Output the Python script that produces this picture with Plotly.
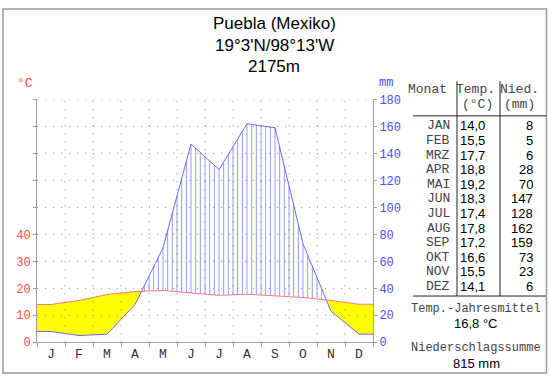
import numpy as np
import plotly.graph_objects as go

# ---------------- data ----------------
title_lines = ["Puebla (Mexiko)", "19°3'N/98°13'W", "2175m"]
month_letters = ["J", "F", "M", "A", "M", "J", "J", "A", "S", "O", "N", "D"]
month_names = ["JAN", "FEB", "MRZ", "APR", "MAI", "JUN", "JUL", "AUG", "SEP", "OKT", "NOV", "DEZ"]
temp_c = [14.0, 15.5, 17.7, 18.8, 19.2, 18.3, 17.4, 17.8, 17.2, 16.6, 15.5, 14.1]
precip_mm = [8, 5, 6, 28, 70, 147, 128, 162, 159, 73, 23, 6]
temp_labels = ["14,0", "15,5", "17,7", "18,8", "19,2", "18,3", "17,4", "17,8", "17,2", "16,6", "15,5", "14,1"]
precip_labels = ["8", "5", "6", "28", "70", "147", "128", "162", "159", "73", "23", "6"]
temp_tick_vals = [0, 10, 20, 30, 40, 50, 60, 70, 80, 90]
temp_tick_text = ["0", "10", "20", "30", "40", "", "", "", "", ""]
precip_tick_vals = [0, 20, 40, 60, 80, 100, 120, 140, 160, 180]
mean_temp_text = "16,8 °C"
total_precip_text = "815 mm"

W, H = 550, 384
def px(xp):
    return xp / W
def py(yp):
    return 1 - yp / H

MONO = "Liberation Mono"
SANS = "Liberation Sans"
RED = "#ff4d4d"
BLUE = "#4d4dff"

# ---------------- geometry from data ----------------
n = len(temp_c)
nx = np.array([0.0] + [i + 0.5 for i in range(n)] + [float(n)])
Tn = 2 * np.array([temp_c[0]] + temp_c + [temp_c[-1]], dtype=float)   # temp in mm units
Pn = np.array([precip_mm[0]] + precip_mm + [precip_mm[-1]], dtype=float)

# refine with crossing points
X, T, P = [nx[0]], [Tn[0]], [Pn[0]]
for i in range(len(nx) - 1):
    d0 = Pn[i] - Tn[i]
    d1 = Pn[i + 1] - Tn[i + 1]
    if d0 * d1 < 0:
        f = d0 / (d0 - d1)
        xc = nx[i] + f * (nx[i + 1] - nx[i])
        yc = Tn[i] + f * (Tn[i + 1] - Tn[i])
        X.append(xc); T.append(yc); P.append(yc)
    X.append(nx[i + 1]); T.append(Tn[i + 1]); P.append(Pn[i + 1])
X, T, P = np.array(X), np.array(T), np.array(P)

fig = go.Figure()

# arid (yellow) areas
arid = T >= P - 1e-9
runs, cur = [], []
for k in range(len(X)):
    if arid[k]:
        cur.append(k)
    else:
        if len(cur) > 1:
            runs.append(cur)
        cur = []
if len(cur) > 1:
    runs.append(cur)
for r in runs:
    xs = list(X[r]) + list(X[r][::-1])
    ys = list(T[r]) + list(P[r][::-1])
    fig.add_trace(go.Scatter(x=xs, y=ys, fill="toself", fillcolor="#ffff00",
                             line=dict(width=0), mode="lines", hoverinfo="skip",
                             showlegend=False, yaxis="y"))

# humid hatch
hx, hy = [], []
for xv in np.arange(1, 6 * n) / 6.0:
    tv = np.interp(xv, nx, Tn)
    pv = np.interp(xv, nx, Pn)
    if pv > tv:
        hx += [xv, xv, None]
        hy += [tv, pv, None]
fig.add_trace(go.Scatter(x=hx, y=hy, mode="lines", line=dict(color="#9a9aff", width=1),
                         hoverinfo="skip", showlegend=False, yaxis="y"))

# precipitation line
fig.add_trace(go.Scatter(x=nx, y=Pn, mode="lines", line=dict(color="#6a6aff", width=1),
                         showlegend=False, yaxis="y"))
# temperature line
fig.add_trace(go.Scatter(x=nx, y=Tn / 2, mode="lines", line=dict(color="#ff7a7a", width=1),
                         showlegend=False, yaxis="y2"))

AX = "#a0a0a0"
fig.update_layout(
    width=W, height=H, margin=dict(l=0, r=0, t=0, b=0),
    paper_bgcolor="white", plot_bgcolor="white",
    xaxis=dict(domain=[px(37), px(373)], range=[0, n], tickvals=list(range(n + 1)),
               showticklabels=False, ticks="outside", ticklen=4, tickcolor=AX,
               showline=True, linecolor=AX, linewidth=1, showgrid=False, zeroline=False,
               fixedrange=True),
    yaxis=dict(domain=[py(349), py(97)], range=[0, 180], side="right",
               tickvals=precip_tick_vals, ticks="outside", ticklen=3, tickcolor=AX,
               showline=True, linecolor=AX, linewidth=1, showgrid=False, zeroline=False,
               tickfont=dict(family=MONO, size=12, color=BLUE)),
    yaxis2=dict(overlaying="y", range=[0, 90], side="left", anchor="x",
                tickvals=temp_tick_vals, ticktext=temp_tick_text,
                ticks="outside", ticklen=3, tickcolor=AX,
                showline=True, linecolor=AX, linewidth=1, showgrid=False, zeroline=False,
                tickfont=dict(family=MONO, size=12, color=RED)),
)

shapes = []
# dotted grid above everything
for v in precip_tick_vals[1:]:
    shapes.append(dict(type="line", xref="x", yref="y", x0=0, x1=n, y0=v, y1=v,
                       line=dict(color="#888888", width=1, dash="1px,7px"), layer="above"))
for v in range(1, n):
    shapes.append(dict(type="line", xref="x", yref="y", x0=v, x1=v, y0=0, y1=180,
                       line=dict(color="#888888", width=1, dash="1px,7px"), layer="above"))
# outer frame
shapes.append(dict(type="rect", xref="paper", yref="paper", x0=px(3), x1=px(546.5), y0=py(381), y1=py(3),
                   line=dict(color="#9a9a9a", width=1.5)))
# table lines
TL = "#222222"
shapes.append(dict(type="line", xref="paper", yref="paper", x0=px(413), x1=px(546), y0=py(114), y1=py(114),
                   line=dict(color=TL, width=1)))
shapes.append(dict(type="line", xref="paper", yref="paper", x0=px(413), x1=px(546), y0=py(301), y1=py(301),
                   line=dict(color=TL, width=1)))
for xv in (457, 500):
    shapes.append(dict(type="line", xref="paper", yref="paper", x0=px(xv), x1=px(xv), y0=py(78), y1=py(301),
                       line=dict(color=TL, width=1)))
fig.update_layout(shapes=shapes)

ann = []
def text(x, y, s, family=SANS, size=13, color="black", xanchor="center"):
    ann.append(dict(x=px(x), y=py(y), xref="paper", yref="paper", text=s, showarrow=False,
                    xanchor=xanchor, yanchor="middle", font=dict(family=family, size=size, color=color)))

for i, s in enumerate(title_lines):
    text(274, 18 + 22.5 * i, s, SANS, 17, "black")
text(25, 80, "°C", MONO, 13, RED)
text(386, 80, "mm", MONO, 12, BLUE)
for i, m in enumerate(month_letters):
    ann.append(dict(x=i + 0.5, y=py(362), xref="x", yref="paper", text=m, showarrow=False,
                    xanchor="center", yanchor="middle", font=dict(family=MONO, size=13, color="#333333")))

GRAY = "#444444"
text(427, 87, "Monat", MONO, 13, GRAY)
text(475, 87, "Temp.", MONO, 13, GRAY)
text(477, 102, "(°C)", MONO, 13, GRAY)
text(519, 87, "Nied.", MONO, 13, GRAY)
text(519, 102, "(mm)", MONO, 13, GRAY)
for i in range(n):
    yy = 124.5 + 15.15 * i
    text(438, yy, month_names[i], MONO, 13, GRAY)
    text(487, yy, temp_labels[i], SANS, 13, "black", "right")
    text(535, yy, precip_labels[i], SANS, 13, "black", "right")
text(476, 314, "Temp.-Jahresmittel", MONO, 12, GRAY)
text(476, 330, mean_temp_text, SANS, 13, "black")
text(476, 355, "Niederschlagssumme", MONO, 12, GRAY)
text(476, 371, total_precip_text, SANS, 13, "black")
fig.update_layout(annotations=ann)

fig.write_html("out.html", config={"displayModeBar": False},
               post_script="document.body.style.margin='0';document.body.style.overflow='hidden';")
